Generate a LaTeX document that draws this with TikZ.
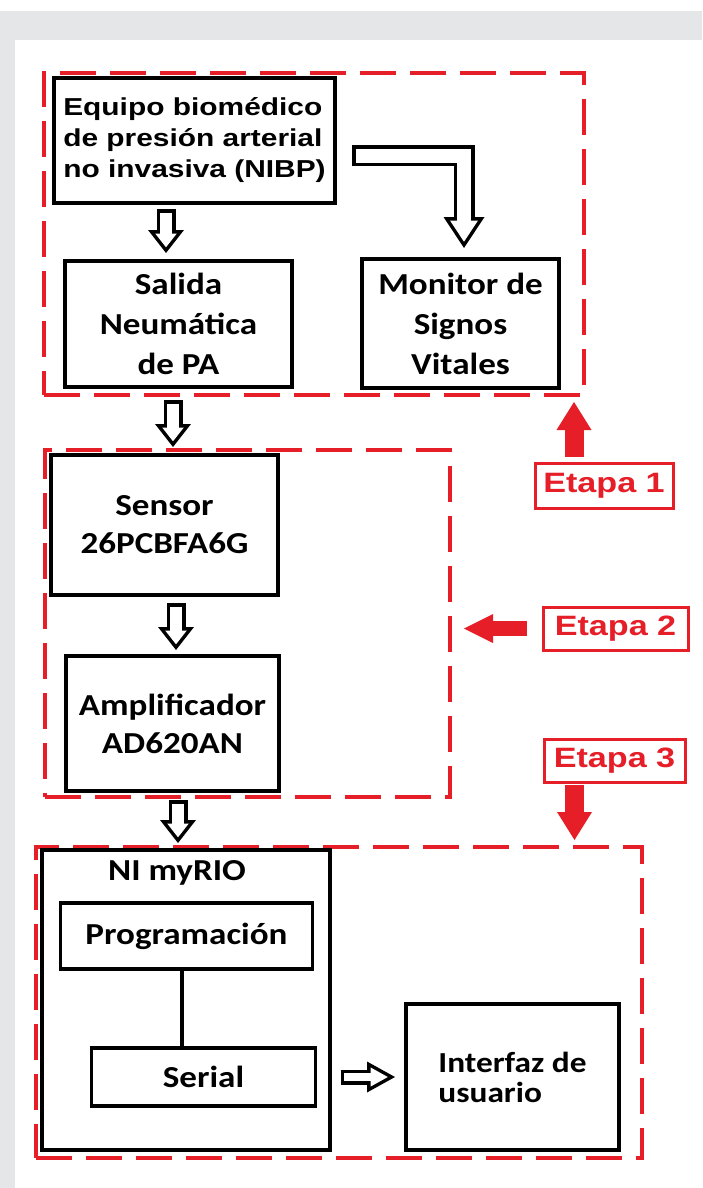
\documentclass[tikz,border=0pt]{standalone}
\usepackage{fontspec}
\usepackage{tikz}
\usetikzlibrary{arrows.meta,positioning}
\newfontfamily\arialfont[FakeStretch=1.22]{Liberation Sans}
\newfontfamily\califont[FakeStretch=1.15]{Carlito}
\definecolor{stagered}{RGB}{230,30,40}
\definecolor{framegray}{RGB}{229,230,232}

\tikzset{
  blockbox/.style={draw, line width=3.5pt, inner sep=0pt, outer sep=0pt, align=center,
    font=\califont\bfseries\fontsize{30.5}{40}\selectfont},
  stagebox/.style={draw=stagered, line width=4.5pt, dash pattern=on 36pt off 14pt,
    inner sep=0pt, outer sep=0pt},
  etapa/.style={draw=stagered, text=stagered, line width=3pt, inner sep=0pt, outer sep=0pt,
    font=\arialfont\bfseries\fontsize{28}{30}\selectfont},
  hollow/.style={line width=19pt, -{Triangle[width=36pt,length=23pt,line width=0pt]},
    postaction={draw=white, line width=12pt, shorten <=3.5pt, shorten >=5.7pt,
      -{Triangle[width=21.6pt,length=13.8pt,line width=0pt]}}},
  hollowbig/.style={line width=21pt, -{Triangle[width=41pt,length=31pt,line width=0pt]},
    postaction={draw=white, line width=14pt, shorten <=3.5pt, shorten >=6.3pt,
      -{Triangle[width=28pt,length=21.2pt,line width=0pt]}}},
  hollowsmall/.style={line width=15pt, -{Triangle[width=31pt,length=28pt,line width=0pt]},
    postaction={draw=white, line width=8pt, shorten <=3.5pt, shorten >=7.2pt,
      -{Triangle[width=19.2pt,length=17.3pt,line width=0pt]}}},
  stagearrow/.style={draw=stagered, line width=19pt,
    -{Triangle[width=35pt,length=28pt,line width=0pt]}}
}

\begin{document}
\begin{tikzpicture}[x=1pt,y=-1pt]
	% fondo
	\fill[white] (0,0) rectangle (702,1188);
	\fill[framegray] (0,11) rectangle (702,40);
	\fill[framegray] (0,40) rectangle (15,1188);
	\useasboundingbox (0,0) rectangle (702,1188);

	% etapas
	\node[stagebox, minimum width=540pt, minimum height=322pt] (s1) at (314,234) {};
	\node[stagebox, minimum width=405pt, minimum height=347pt] (s2) at (247.5,623.5) {};
	\node[stagebox, minimum width=606pt, minimum height=311pt] (s3) at (339,1002.5) {};

	% bloques
	\node[blockbox, align=left, font=\arialfont\bfseries\fontsize{24.5}{31}\selectfont,
		minimum width=281pt, minimum height=125pt] (nibp) at (194.5,140.5)
		{Equipo biomédico\\de presión arterial\\no invasiva (NIBP)};
	\node[blockbox, minimum width=227pt, minimum height=126pt] (salida) at (178.5,324)
		{Salida\\Neumática\\de PA};
	\node[blockbox, minimum width=197pt, minimum height=129pt] (monitor) at (460.5,323.5)
		{Monitor de\\Signos\\Vitales};
	\node[blockbox, font=\califont\bfseries\fontsize{30.5}{38}\selectfont,
		minimum width=227pt, minimum height=140pt] (sensor) at (164.5,525)
		{Sensor\\26PCBFA6G};
	\node[blockbox, font=\califont\bfseries\fontsize{30.5}{38}\selectfont,
		minimum width=213pt, minimum height=135pt] (ampl) at (172.5,723.5)
		{Amplificador\\AD620AN};
	\node[blockbox, minimum width=288pt, minimum height=300pt] (ni) at (186,1000) {};
	\node[font=\califont\bfseries\fontsize{30.5}{38}\selectfont, anchor=base] (nilabel) at (177,880) {NI myRIO};
	\node[blockbox, minimum width=252pt, minimum height=66pt] (prog) at (186.5,936) {Programación};
	\node[blockbox, minimum width=224pt, minimum height=58pt] (serial) at (203.5,1077) {Serial};
	\node[blockbox, align=left, font=\califont\bfseries\fontsize{29}{30}\selectfont,
		minimum width=213pt, minimum height=146pt] (interfaz) at (512.5,1077)
		{Interfaz de\\usuario};

	% conexiones
	\draw[line width=3.5pt] ([xshift=-4.5pt]prog.south) -- ([xshift=-4.5pt]prog.south |- serial.north);
	\draw[hollow] ([xshift=-28.5pt,yshift=-6pt]nibp.south) -- ([xshift=-12.5pt,yshift=8pt]salida.north);
	\draw[hollowbig] ([xshift=17pt,yshift=-15pt]nibp.east) -| ([xshift=3.5pt,yshift=11pt]monitor.north);
	\draw[hollow] ([xshift=-5.5pt,yshift=-13pt]salida.south) -- ([xshift=8.5pt,yshift=8pt]sensor.north);
	\draw[hollow] ([xshift=11.5pt,yshift=-8pt]sensor.south) -- ([xshift=3.5pt,yshift=6pt]ampl.north);
	\draw[hollow] ([xshift=5.5pt,yshift=-9pt]ampl.south) -- ([xshift=-8pt,yshift=7pt]ni.north);
	\draw[hollowsmall] ([xshift=25pt]serial.east) -- ([xshift=-11pt]interfaz.west);

	% etiquetas de etapa
	\node[etapa, minimum width=138pt, minimum height=45pt] (e1) at (604,485.5) {Etapa 1};
	\node[etapa, minimum width=145pt, minimum height=43pt] (e2) at (615.5,628.5) {Etapa 2};
	\node[etapa, minimum width=141pt, minimum height=43pt] (e3) at (614.5,760.5) {Etapa 3};
	\draw[stagearrow] ([xshift=-30pt,yshift=6pt]e1.north) -- ([xshift=-30pt,yshift=-7pt]e1.north |- s1.south);
	\draw[stagearrow, line width=15pt, -{Triangle[width=29pt,length=29pt,line width=0pt]}]
		([xshift=-16pt]e2.west) -- ([xshift=14pt]s2.east |- e2.west);
	\draw[stagearrow] ([xshift=-40pt,yshift=-3pt]e3.south) -- ([xshift=-40pt,yshift=7pt]e3.south |- s3.north);
\end{tikzpicture}
\end{document}
